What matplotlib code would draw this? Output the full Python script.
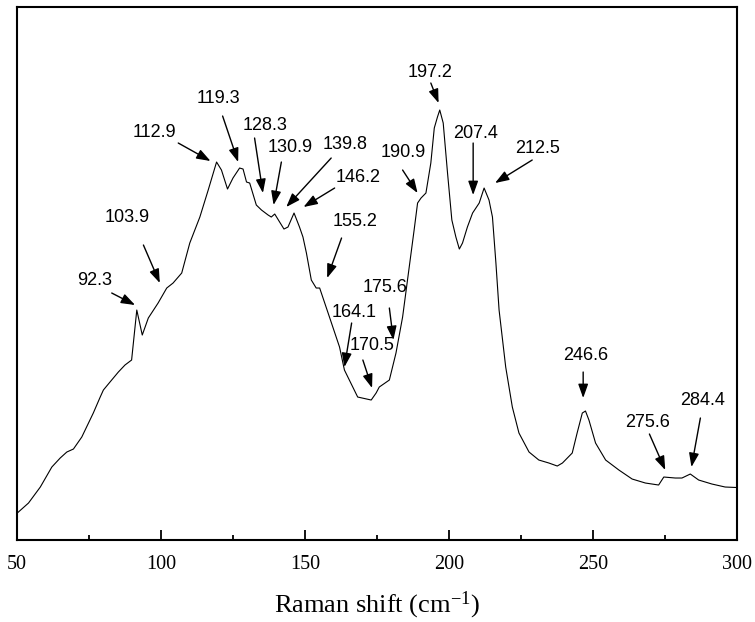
import numpy as np
import matplotlib
matplotlib.use("Agg")
import matplotlib.pyplot as plt

plt.rcParams["mathtext.fontset"] = "custom"
plt.rcParams["mathtext.rm"] = "Liberation Serif"
plt.rcParams["mathtext.it"] = "Liberation Serif:italic"

# spectrum (arbitrary intensity units)
shift = [50.1, 54.0, 58.1, 62.1, 65.0, 67.3, 69.6, 72.5, 76.5, 78.9, 80.0, 82.3,
         85.2, 87.5, 89.8, 91.6, 93.5, 95.6, 99.0, 102.0, 104.2, 107.2, 110.0,
         113.5, 116.4, 119.3, 121.0, 123.1, 125.0, 127.3, 128.5, 129.7, 130.8,
         133.1, 134.9, 137.2, 138.3, 139.5, 141.2, 142.7, 144.1, 146.2, 148.1,
         149.3, 150.5, 152.2, 153.9, 155.1, 158.5, 162.0, 163.7, 168.3, 173.0,
         174.7, 175.8, 179.3, 181.6, 183.9, 186.2, 187.9, 189.1, 190.3, 192.0,
         193.7, 194.9, 196.0, 196.8, 198.0, 199.5, 201.0, 202.4, 203.6, 204.7,
         206.4, 208.2, 210.5, 212.2, 213.9, 215.1, 216.3, 217.4, 219.7, 222.0,
         224.3, 227.8, 231.2, 234.7, 237.6, 239.4, 242.8, 244.5, 246.3, 247.4,
         248.6, 250.9, 254.4, 259.0, 263.6, 268.2, 272.8, 274.6, 278.6, 280.9,
         283.8, 286.7, 291.3, 295.9, 300.0]
intensity = [27, 37, 53, 73, 82, 88, 91, 103, 127, 143, 150, 158,
             168, 175, 180, 230, 205, 222, 237, 252, 257, 267, 297,
             323, 350, 378, 370, 351, 362, 372, 371, 358, 357,
             335, 330, 325, 323, 326, 318, 311, 313, 327, 313,
             303, 287, 260, 252, 252, 223, 193, 170, 143, 140,
             147, 153, 160, 187, 223, 273, 310, 337, 342, 347,
             377, 412, 423, 430, 417, 367, 320, 303, 291, 297,
             313, 327, 337, 352, 340, 323, 277, 230, 173, 133,
             107, 88, 80, 77, 74, 77, 87, 107, 127, 129,
             120, 97, 80, 70, 61, 57, 55, 63, 62, 62,
             66, 60, 56, 53, 52.5]

peak_labels = ["92.3", "103.9", "112.9", "119.3", "128.3", "130.9", "139.8",
               "146.2", "155.2", "164.1", "170.5", "175.6", "190.9", "197.2",
               "207.4", "212.5", "246.6", "275.6", "284.4"]

# layout of the labels and arrows (data coordinates)
label_xy = [(77.1, 260), (88.1, 323), (97.9, 408), (119.8, 442), (136.0, 415),
            (144.7, 393), (163.9, 396), (168.3, 363), (167.5, 319), (167.2, 228),
            (173.3, 195), (177.8, 253), (184.2, 388), (193.5, 468), (209.3, 407),
            (230.7, 392), (247.4, 185), (268.8, 118), (288.1, 140)]
arrow_from = [(82.9, 247), (93.9, 295), (106.0, 397), (121.4, 424), (132.5, 402),
              (141.8, 378), (159.1, 382), (160.3, 352), (162.7, 302), (166.2, 217),
              (170.1, 180), (179.3, 232), (183.9, 370), (193.7, 457), (208.4, 397),
              (228.9, 380), (246.6, 168), (269.6, 106), (287.3, 122)]
arrow_to = [(91.0, 235), (99.6, 257), (117.2, 379), (126.8, 378), (135.4, 347),
            (139.1, 335), (143.5, 333), (149.5, 333), (157.7, 262), (163.7, 173),
            (173.3, 152), (180.7, 200), (189.1, 347), (196.4, 437), (208.4, 345),
            (216.0, 357), (246.6, 142), (275.1, 70), (284.2, 73)]

fig = plt.figure(figsize=(7.55, 6.22), dpi=100)
ax = fig.add_axes([0.0225, 0.1318, 0.9536, 0.8569])

ax.plot(shift, intensity, color="black", linewidth=0.8)

for text, (tx, ty), (sx, sy), (ex, ey) in zip(peak_labels, label_xy, arrow_from, arrow_to):
    ax.text(tx, ty, text, ha="center", va="center", fontsize=13,
            family="Liberation Sans")
    ax.annotate("", xy=(ex, ey), xytext=(sx, sy),
                arrowprops=dict(arrowstyle="-|>,head_length=0.7,head_width=0.25",
                                color="black", lw=1.0, shrinkA=0, shrinkB=0,
                                mutation_scale=12))

ax.set_xlim(50, 300)
ax.set_ylim(0, 533)
ax.set_xticks([50, 100, 150, 200, 250, 300])
ax.set_xticks([75, 125, 175, 225, 275], minor=True)
ax.set_yticks([])
ax.tick_params(axis="x", which="major", direction="in", length=7.5, width=1.3,
               labelsize=14.5, pad=11)
ax.tick_params(axis="x", which="minor", direction="in", length=3.8, width=1.3)
for lbl in ax.get_xticklabels():
    lbl.set_family("Liberation Serif")
for sp in ax.spines.values():
    sp.set_linewidth(1.5)

ax.set_xlabel("Raman shift (cm$^{\\mathrm{-1}}$)", fontsize=19,
              family="Liberation Serif", labelpad=11)

fig.savefig("out.png", dpi=100)
